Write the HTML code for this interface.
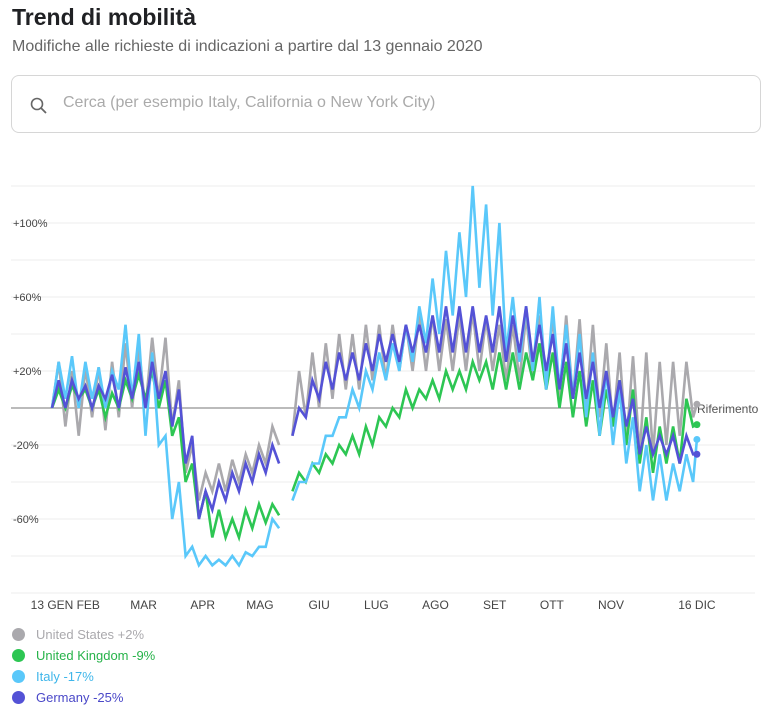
<!DOCTYPE html>
<html><head><meta charset="utf-8"><style>
body{margin:0;width:784px;height:725px;background:#fff;font-family:"Liberation Sans",sans-serif;overflow:hidden;position:relative}
h1{position:absolute;left:12px;top:4px;margin:0;font-size:23px;font-weight:bold;color:#202124}
.sub{position:absolute;left:12px;top:38px;font-size:16px;color:#666}
.search{position:absolute;left:11px;top:75px;width:750px;height:58px;border:1px solid #d6d6d6;border-radius:8px;box-sizing:border-box}
.search span{position:absolute;left:51px;top:18px;font-size:16px;color:#aaa}
.leg{position:absolute;left:12px;font-size:13px}
.leg i{display:inline-block;width:13px;height:13px;border-radius:50%;vertical-align:-2px;margin-right:11px}
</style></head><body>
<h1>Trend di mobilità</h1>
<div class="sub">Modifiche alle richieste di indicazioni a partire dal 13 gennaio 2020</div>
<div class="search">
<svg style="position:absolute;left:18px;top:21px" width="18" height="18"><circle cx="7" cy="7" r="5.5" fill="none" stroke="#666" stroke-width="1.6"/><line x1="11" y1="11" x2="16" y2="16" stroke="#666" stroke-width="1.8"/></svg>
<span>Cerca (per esempio Italy, California o New York City)</span></div>
<svg id="chart" width="784" height="620" style="position:absolute;left:0;top:0"></svg>
<div class="leg" style="top:627px;color:#aaa9ad"><i style="background:#aaa9ad"></i>United States +2%</div>
<div class="leg" style="top:648px;color:#27b34a"><i style="background:#2dc653"></i>United Kingdom -9%</div>
<div class="leg" style="top:669px;color:#3fb6ea"><i style="background:#5ac8fa"></i>Italy -17%</div>
<div class="leg" style="top:690px;color:#4a48c8"><i style="background:#5452d6"></i>Germany -25%</div>
<script>
const xLabels=["13 GEN","FEB","MAR","APR","MAG","GIU","LUG","AGO","SET","OTT","NOV","16 DIC"];
const xLabelDays=[0,19,48,79,109,140,170,201,232,262,293,338];
const yTicks=[100,60,20,-20,-60];
const usValues=[0,25,-10,20,-15,22,-5,22,-12,25,-5,35,0,32,0,38,5,38,-10,15,-35,-20,-50,-35,-45,-30,-45,-28,-40,-25,-35,-20,-30,-10,-20,null,-15,20,-5,30,0,35,5,40,10,40,10,45,15,45,15,45,20,45,20,50,20,50,20,48,20,50,20,52,20,48,20,45,15,45,15,50,15,50,10,50,5,50,5,48,0,45,-5,35,-10,30,-20,28,-25,30,-25,25,-20,25,-15,25,-5,2];
const ukValues=[0,10,0,12,5,10,0,10,-5,8,0,15,5,18,5,20,0,15,-15,-5,-40,-30,-60,-45,-70,-55,-70,-60,-70,-55,-65,-52,-62,-52,-58,null,-45,-35,-40,-30,-35,-25,-30,-20,-25,-15,-25,-10,-20,-5,-10,0,-5,10,0,10,5,15,5,20,10,20,10,25,15,25,10,30,10,30,10,30,15,35,10,30,0,25,-5,20,-10,15,-15,10,-10,15,-20,10,-30,-5,-35,-10,-30,-10,-30,5,-10,-9];
const itValues=[0,25,5,28,0,25,5,22,0,20,10,45,5,40,-15,30,-20,-15,-60,-40,-80,-75,-85,-80,-85,-82,-85,-80,-85,-78,-80,-75,-75,-60,-65,null,-50,-40,-40,-30,-30,-15,-15,-5,-5,10,0,20,10,30,15,35,20,45,25,55,35,70,40,85,50,95,60,120,65,110,50,100,30,60,25,55,20,60,10,55,10,45,5,40,-5,30,-15,20,-20,10,-30,-5,-45,-20,-50,-25,-50,-30,-45,-25,-40,-17];
const deValues=[0,15,0,15,5,12,0,12,5,18,0,22,5,25,0,25,5,20,-10,10,-30,-15,-60,-45,-55,-40,-50,-35,-45,-30,-40,-25,-35,-20,-30,null,-15,0,-5,15,5,25,10,30,15,30,15,35,20,40,25,40,25,45,30,45,30,50,30,55,30,55,30,55,30,50,30,55,25,50,30,55,25,45,20,40,10,35,5,30,5,25,0,20,-5,15,-10,5,-25,-10,-25,-15,-25,-15,-30,-15,-25,-25];
const svg=document.getElementById('chart');
const NS='http://www.w3.org/2000/svg';
const X=d=>52+d*1.908, Y=v=>408-v*1.85;
function mk(t,a){const e=document.createElementNS(NS,t);for(const k in a)e.setAttribute(k,a[k]);svg.appendChild(e);return e;}
for(let v=120;v>=-100;v-=20){const g=mk('line',{x1:11,x2:755,y1:Y(v),y2:Y(v),stroke:'#ececec','stroke-width':1});

}
yTicks.forEach(v=>{const t=mk('text',{x:13,y:Y(v)+4,'font-size':11,fill:'#444','font-family':'Liberation Sans'});t.textContent=(v>0?'+':'')+v+'%';

});
xLabels.forEach((l,i)=>{const t=mk('text',{x:X(xLabelDays[i]),y:609,'font-size':12,fill:'#444','text-anchor':'middle','font-family':'Liberation Sans'});t.textContent=l;

});
const z=mk('line',{x1:11,x2:697,y1:Y(0),y2:Y(0),stroke:'#777','stroke-width':1});


const rt=mk('text',{x:697,y:413,'font-size':12,fill:'#555','font-family':'Liberation Sans'});rt.textContent='Riferimento';


function draw(vals,color,name){let d='',pen=false,last=null;
vals.forEach((v,i)=>{if(v===null){pen=false;return;}const x=X(Math.min(i*3.5,338)),y=Y(v);d+=(pen?'L':'M')+x.toFixed(1)+' '+y.toFixed(1);pen=true;last=[x,y];});
const p=mk('path',{d:d,fill:'none',stroke:color,'stroke-width':2.6,'stroke-linejoin':'miter'});


const c=mk('circle',{cx:last[0],cy:last[1],r:3.5,fill:color});

}
draw(usValues,'#aaa9ad','us');draw(ukValues,'#2dc653','uk');draw(itValues,'#5ac8fa','italy');draw(deValues,'#5452d6','germany');
</script>
</body></html>
